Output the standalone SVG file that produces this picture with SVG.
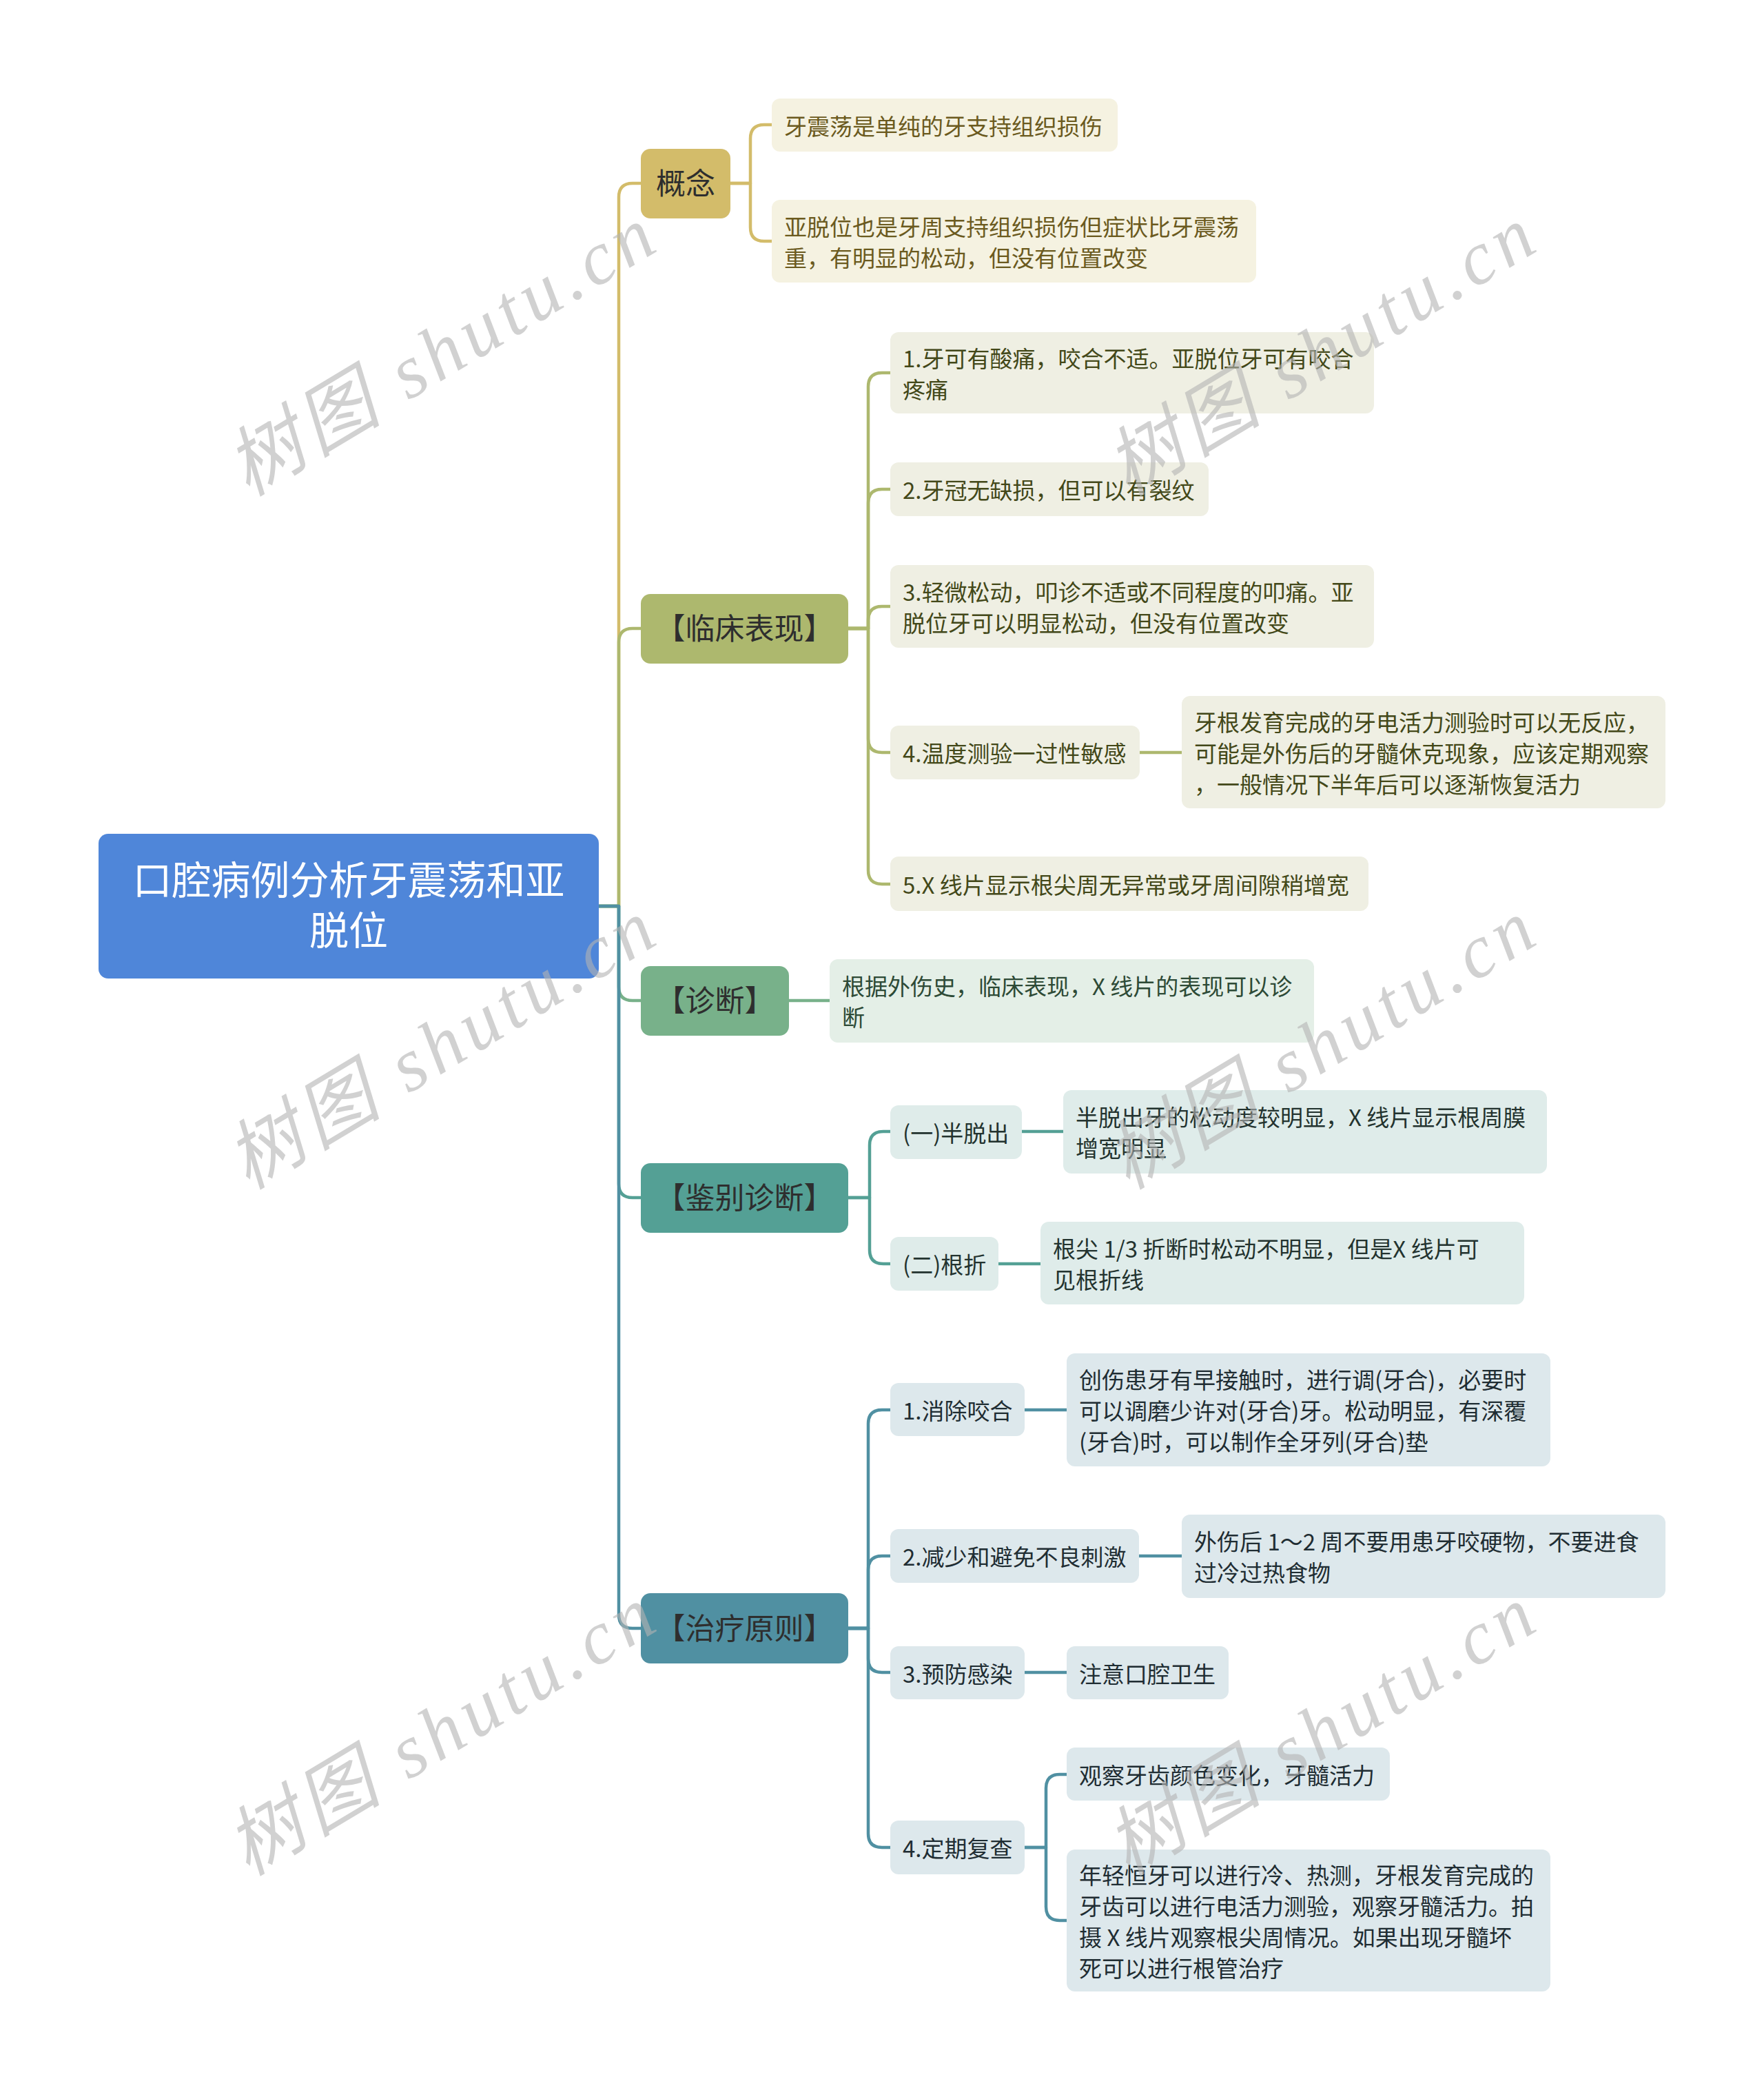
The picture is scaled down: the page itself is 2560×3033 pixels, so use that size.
<svg xmlns="http://www.w3.org/2000/svg" width="2560" height="3033" viewBox="0 0 2560 3033">
<style>
text{font-family:"Noto Sans CJK SC","Noto Sans",sans-serif}
.root{fill:#4f86d9}
.rt{fill:#ffffff;font-size:57px;text-anchor:middle}
.l1t{fill:#2e2e2e;font-size:43px;text-anchor:middle}
.l2t{font-size:33px}
.c{fill:none;stroke-width:4.5;stroke-linecap:round;stroke-linejoin:round}
.g1{stroke:#d3bc6a}.g2{stroke:#adb86e}.g3{stroke:#78b18a}.g4{stroke:#54a095}.g5{stroke:#5090a2}
.f1{fill:#d3bc6a}.f2{fill:#adb86e}.f3{fill:#78b18a}.f4{fill:#54a095}.f5{fill:#5090a2}
.b1{fill:#f5f2e1}.b2{fill:#efefe3}.b3{fill:#e4efe7}.b4{fill:#dfecea}.b5{fill:#dde8ec}
.t1{fill:#6b5a1e}.t2{fill:#434819}.t3{fill:#2d4a36}.t4{fill:#23332f}.t5{fill:#1f2d33}
.wm{font-family:"Liberation Serif","Noto Sans CJK SC",serif;font-style:italic;font-size:110px;letter-spacing:8px;fill:#b4b4b4;opacity:0.6;text-anchor:middle}
</style>
<rect width="2560" height="3033" fill="#ffffff"/>
<g id="connectors">
<path class="c g1" d="M869,1315 H898 V286 Q898,266 918,266 H930"/>
<path class="c g2" d="M869,1315 H898 V932 Q898,912 918,912 H930"/>
<path class="c g3" d="M869,1315 H898 V1432 Q898,1452 918,1452 H930"/>
<path class="c g4" d="M869,1315 H898 V1718 Q898,1738 918,1738 H930"/>
<path class="c g5" d="M869,1315 H898 V2343 Q898,2363 918,2363 H930"/>
<path class="c g1" d="M1060,266 H1089 V201 Q1089,181 1109,181 H1120"/>
<path class="c g1" d="M1060,266 H1089 V330 Q1089,350 1109,350 H1120"/>
<path class="c g2" d="M1231,912 H1260 V561 Q1260,541 1280,541 H1292"/>
<path class="c g2" d="M1231,912 H1260 V730 Q1260,710 1280,710 H1292"/>
<path class="c g2" d="M1231,912 H1260 V900 Q1260,880 1280,880 H1292"/>
<path class="c g2" d="M1231,912 H1260 V1072 Q1260,1092 1280,1092 H1292"/>
<path class="c g2" d="M1231,912 H1260 V1263 Q1260,1283 1280,1283 H1292"/>
<path class="c g2" d="M1654,1092 H1715"/>
<path class="c g3" d="M1145,1452 H1204"/>
<path class="c g4" d="M1231,1738 H1262 V1662 Q1262,1642 1282,1642 H1292"/>
<path class="c g4" d="M1231,1738 H1262 V1814 Q1262,1834 1282,1834 H1292"/>
<path class="c g4" d="M1483,1642 H1543"/>
<path class="c g4" d="M1449,1834 H1510"/>
<path class="c g5" d="M1231,2363 H1260 V2066 Q1260,2046 1280,2046 H1292"/>
<path class="c g5" d="M1231,2363 H1260 V2278 Q1260,2258 1280,2258 H1292"/>
<path class="c g5" d="M1231,2363 H1260 V2407 Q1260,2427 1280,2427 H1292"/>
<path class="c g5" d="M1231,2363 H1260 V2661 Q1260,2681 1280,2681 H1292"/>
<path class="c g5" d="M1487,2046 H1548"/>
<path class="c g5" d="M1653,2258 H1715"/>
<path class="c g5" d="M1487,2427 H1548"/>
<path class="c g5" d="M1487,2681 H1518 V2595 Q1518,2575 1538,2575 H1548"/>
<path class="c g5" d="M1487,2681 H1518 V2767 Q1518,2787 1538,2787 H1548"/>
</g>
<g id="root"><rect class="root" x="143" y="1210" width="726" height="210" rx="14"/><text class="rt"><tspan x="506" y="1298">口腔病例分析牙震荡和亚</tspan><tspan x="506" y="1371">脱位</tspan></text></g>
<g id="n-gainian"><rect class="f1" x="930" y="216" width="130" height="101" rx="14"/><text class="l1t" x="995" y="282">概念</text></g>
<g id="n-gainian-1"><rect class="b1" x="1120" y="143" width="502" height="77" rx="12"/><text class="l2t t1" x="1138" y="195.5">牙震荡是单纯的牙支持组织损伤</text></g>
<g id="n-gainian-2"><rect class="b1" x="1120" y="290" width="703" height="120" rx="12"/><text class="l2t t1" x="1138" y="341.5">亚脱位也是牙周支持组织损伤但症状比牙震荡</text><text class="l2t t1" x="1138" y="386.5">重，有明显的松动，但没有位置改变</text></g>
<g id="n-linchuang"><rect class="f2" x="930" y="862" width="301" height="101" rx="14"/><text class="l1t" x="1080.5" y="928">【临床表现】</text></g>
<g id="n-lc-1"><rect class="b2" x="1292" y="482" width="702" height="118" rx="12"/><text class="l2t t2" x="1310" y="532.5">1.牙可有酸痛，咬合不适。亚脱位牙可有咬合</text><text class="l2t t2" x="1310" y="577.5">疼痛</text></g>
<g id="n-lc-2"><rect class="b2" x="1292" y="671" width="462" height="78" rx="12"/><text class="l2t t2" x="1310" y="724">2.牙冠无缺损，但可以有裂纹</text></g>
<g id="n-lc-3"><rect class="b2" x="1292" y="820" width="702" height="120" rx="12"/><text class="l2t t2" x="1310" y="871.5">3.轻微松动，叩诊不适或不同程度的叩痛。亚</text><text class="l2t t2" x="1310" y="916.5">脱位牙可以明显松动，但没有位置改变</text></g>
<g id="n-lc-4"><rect class="b2" x="1292" y="1053" width="362" height="78" rx="12"/><text class="l2t t2" x="1310" y="1106">4.温度测验一过性敏感</text></g>
<g id="n-lc-4-1"><rect class="b2" x="1715" y="1010" width="702" height="163" rx="12"/><text class="l2t t2" x="1733" y="1060.5">牙根发育完成的牙电活力测验时可以无反应，</text><text class="l2t t2" x="1733" y="1105.5">可能是外伤后的牙髓休克现象，应该定期观察</text><text class="l2t t2" x="1733" y="1150.5">，一般情况下半年后可以逐渐恢复活力</text></g>
<g id="n-lc-5"><rect class="b2" x="1292" y="1243" width="694" height="79" rx="12"/><text class="l2t t2" x="1310" y="1296.5">5.X 线片显示根尖周无异常或牙周间隙稍增宽</text></g>
<g id="n-zhenduan"><rect class="f3" x="930" y="1402" width="215" height="101" rx="14"/><text class="l1t" x="1037.5" y="1468">【诊断】</text></g>
<g id="n-zd-1"><rect class="b3" x="1204" y="1392" width="703" height="121" rx="12"/><text class="l2t t3" x="1222" y="1444">根据外伤史，临床表现，X 线片的表现可以诊</text><text class="l2t t3" x="1222" y="1489">断</text></g>
<g id="n-jianbie"><rect class="f4" x="930" y="1688" width="301" height="101" rx="14"/><text class="l1t" x="1080.5" y="1754">【鉴别诊断】</text></g>
<g id="n-jb-1"><rect class="b4" x="1292" y="1604" width="191" height="78" rx="12"/><text class="l2t t4" x="1310" y="1657">(一)半脱出</text></g>
<g id="n-jb-1-1"><rect class="b4" x="1543" y="1582" width="702" height="121" rx="12"/><text class="l2t t4" x="1561" y="1634">半脱出牙的松动度较明显，X 线片显示根周膜</text><text class="l2t t4" x="1561" y="1679">增宽明显</text></g>
<g id="n-jb-2"><rect class="b4" x="1292" y="1795" width="157" height="78" rx="12"/><text class="l2t t4" x="1310" y="1848">(二)根折</text></g>
<g id="n-jb-2-1"><rect class="b4" x="1510" y="1773" width="702" height="120" rx="12"/><text class="l2t t4" x="1528" y="1824.5">根尖 1/3 折断时松动不明显，但是X 线片可</text><text class="l2t t4" x="1528" y="1869.5">见根折线</text></g>
<g id="n-zhiliao"><rect class="f5" x="930" y="2312" width="301" height="102" rx="14"/><text class="l1t" x="1080.5" y="2378.5">【治疗原则】</text></g>
<g id="n-zl-1"><rect class="b5" x="1292" y="2007" width="195" height="77" rx="12"/><text class="l2t t5" x="1310" y="2059.5">1.消除咬合</text></g>
<g id="n-zl-1-1"><rect class="b5" x="1548" y="1964" width="702" height="164" rx="12"/><text class="l2t t5" x="1566" y="2015">创伤患牙有早接触时，进行调(牙合)，必要时</text><text class="l2t t5" x="1566" y="2060">可以调磨少许对(牙合)牙。松动明显，有深覆</text><text class="l2t t5" x="1566" y="2105">(牙合)时，可以制作全牙列(牙合)垫</text></g>
<g id="n-zl-2"><rect class="b5" x="1292" y="2219" width="361" height="78" rx="12"/><text class="l2t t5" x="1310" y="2272">2.减少和避免不良刺激</text></g>
<g id="n-zl-2-1"><rect class="b5" x="1715" y="2198" width="702" height="121" rx="12"/><text class="l2t t5" x="1733" y="2250">外伤后 1～2 周不要用患牙咬硬物，不要进食</text><text class="l2t t5" x="1733" y="2295">过冷过热食物</text></g>
<g id="n-zl-3"><rect class="b5" x="1292" y="2389" width="195" height="77" rx="12"/><text class="l2t t5" x="1310" y="2441.5">3.预防感染</text></g>
<g id="n-zl-3-1"><rect class="b5" x="1548" y="2389" width="235" height="77" rx="12"/><text class="l2t t5" x="1566" y="2441.5">注意口腔卫生</text></g>
<g id="n-zl-4"><rect class="b5" x="1292" y="2642" width="195" height="78" rx="12"/><text class="l2t t5" x="1310" y="2695">4.定期复查</text></g>
<g id="n-zl-4-1"><rect class="b5" x="1548" y="2536" width="469" height="77" rx="12"/><text class="l2t t5" x="1566" y="2588.5">观察牙齿颜色变化，牙髓活力</text></g>
<g id="n-zl-4-2"><rect class="b5" x="1548" y="2684" width="702" height="206" rx="12"/><text class="l2t t5" x="1566" y="2733.5">年轻恒牙可以进行冷、热测，牙根发育完成的</text><text class="l2t t5" x="1566" y="2778.5">牙齿可以进行电活力测验，观察牙髓活力。拍</text><text class="l2t t5" x="1566" y="2823.5">摄 X 线片观察根尖周情况。如果出现牙髓坏</text><text class="l2t t5" x="1566" y="2868.5">死可以进行根管治疗</text></g>
<g id="watermarks">
<text class="wm" transform="translate(662,540) rotate(-31)">树图 shutu.cn</text>
<text class="wm" transform="translate(1939,540) rotate(-31)">树图 shutu.cn</text>
<text class="wm" transform="translate(662,1546) rotate(-31)">树图 shutu.cn</text>
<text class="wm" transform="translate(1939,1546) rotate(-31)">树图 shutu.cn</text>
<text class="wm" transform="translate(662,2542) rotate(-31)">树图 shutu.cn</text>
<text class="wm" transform="translate(1939,2542) rotate(-31)">树图 shutu.cn</text>
</g>
</svg>
